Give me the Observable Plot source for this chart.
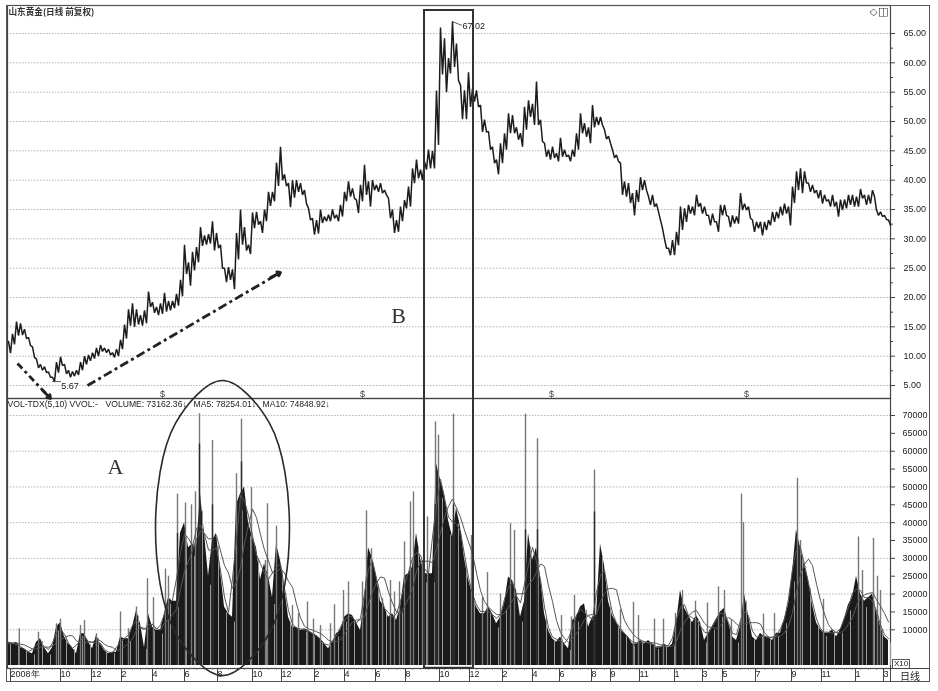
<!DOCTYPE html>
<html>
<head>
<meta charset="utf-8">
<script src="https://cdn.jsdelivr.net/npm/d3@7"></script>
<script src="https://cdn.jsdelivr.net/npm/@observablehq/plot@0.6"></script>
<style>
html,body{margin:0;padding:0;background:#fff;}
#page{position:relative;width:938px;height:691px;overflow:hidden;filter:blur(0.45px);font-family:"Liberation Sans",sans-serif;}
#page svg{position:absolute;left:0;top:0;background:transparent;}
#outer{position:absolute;left:6px;top:5px;width:922px;height:675px;border:1.5px solid #555;}
#cell{position:absolute;left:890px;top:668px;width:38px;height:13px;border-left:1.5px solid #444;border-top:1.5px solid #444;font:10px "Noto Sans CJK SC";text-align:center;line-height:13px;color:#222;}
#x10{position:absolute;left:892px;top:659px;width:16px;height:8px;border:1px solid #555;font:8px "Liberation Sans";line-height:8px;text-align:center;color:#222;}
</style>
</head>
<body>
<div id="page">
  <div id="outer"></div>
  <div id="x10">X10</div>
  <div id="cell">日线</div>
</div>
<script>
const priceHigh = [12.5,13.8,15.9,15.6,14.6,13.2,11.6,9.5,8.6,8.2,7.3,6.4,9,9.9,8.6,7.6,7.4,7.6,9,10,10.2,10.6,11.4,11.9,11.4,11.2,10.6,11.2,12.8,15.4,18,19,18,17,17.8,21,19.2,18.4,19,20.8,19.4,19.4,20.6,23,29,26,27.8,28.6,32,30.6,30.8,33,31,29,25,25.2,24.8,31,35,32,29,34.5,34.6,33,35,38,38,43,45.7,41,39.5,40,40,39.5,38.3,35.2,33.5,33.2,35,33.8,34.1,35,34.1,35.8,38,39.8,38.6,36.6,39.2,42.6,39.8,40,39.2,39.5,38.3,36.9,35,33.2,35.5,36.6,38.9,42,43.5,41.8,43.2,45.2,45,55.3,66,64.2,60.8,67.02,63.3,56.2,55.3,58.4,55.6,55.3,52.8,50.3,48.3,45.7,43.5,46.3,48,51.4,51.1,49,48,52.5,53.6,53,56.8,50.3,46.3,45.2,45.7,44.6,47.2,45.2,44.3,45.2,48,51.4,49.7,49,52.8,50.8,50.8,48.6,47.5,45.2,44.3,42.9,39.8,39.5,37.8,38.3,40.5,40,37.2,37.5,36,33.2,30,28.4,29.8,31.2,35.5,35.2,35.8,35.5,37.5,36.1,35.5,34,34.3,32.9,35.8,35.8,33.8,34,33.8,37.8,36,35.5,33.2,32.9,32.9,32.9,33.2,34.6,34.6,35.5,36,35.5,38.9,41.5,42,41.5,39.5,39.2,38.3,38.3,37.5,36.7,37.5,36.3,36.7,36.7,37.5,37.5,37.2,38.5,37.5,37.5,38.3,34.9,34.6,34,33.2];
const priceLow = [10.5,12,13.5,13.6,13,11.8,9.8,8,7.6,7.2,6.4,5.67,7.2,8.4,7,6.4,6.6,6.8,7.6,8.6,9.2,9.6,10,10.8,10.6,10.2,9.8,10,11.2,13,15.2,15,15.4,15.2,15.6,18.4,17.4,17,17.2,17.6,17.8,18.2,18.6,20.2,24,22,24.6,26,28.8,29,29.2,28,28.4,25,22.6,23,21.4,26.5,29,28,27.4,31.8,32.4,31,33,35.6,36.4,39,40,39,35.4,37,38,37.5,36,33.2,30.7,30.9,32.7,33,33,33.5,33,33.8,36.4,37.2,36.9,34.4,36.4,37.5,35.5,38.3,38,37.8,37.5,33.5,31,31.2,33,35.2,35.5,39.5,40.3,40,41.8,42,42,46,58,55,58.2,59.3,57,50.4,50.4,52.5,53.4,52.5,48.2,48.2,45.2,42.9,41,42.9,45.2,48,48,46.9,45.7,48.6,50.8,49.4,49.4,46.6,44,43.5,43.8,43.2,44,44,43.2,44,45.2,48,47.4,46.3,49,49.4,49.4,47,46.3,43.8,43.2,37.5,37.2,36.1,34,36.3,38.3,38.3,35.8,35.5,34.6,31.8,28.4,27.2,27.2,28.9,31.5,32.9,34.3,34,35.5,34.3,34,32.3,32.9,31.2,34,34,32,32.6,32.6,34.9,34.9,33.5,31.2,31.8,30.6,31.5,32.3,32.9,33.5,34,34.3,32.3,36.1,38.3,37.8,39.5,38,37.8,36.9,36,36.4,35.5,35.5,33.8,34.9,35.2,35.8,35.5,35.5,36.9,35.8,36,37.2,34,33.8,33.3,32.3];
const volumeBars = [6500,6000,6500,5000,4700,3700,3300,6500,7500,5000,3300,5000,10700,12000,8000,6000,5000,3300,8900,8900,6500,4700,8400,6000,4200,3300,3700,3700,8000,7500,7500,10700,15400,11700,5000,14500,10700,9800,9800,14500,19000,18000,18000,37000,40000,33000,34000,33000,48000,37000,25000,35000,37000,26600,16400,14500,13500,45000,48000,50000,40000,36000,33000,24000,28500,25000,19000,34000,29400,22000,13500,10700,10700,9800,
10300,9800,8900,8400,7500,6000,4700,6500,8900,9800,13500,14500,14000,12000,9800,18000,33000,30000,25000,18000,16400,13500,14500,12600,16400,25000,25700,27600,37000,30000,25700,25700,25700,56500,52000,48000,40600,36000,44000,38800,30000,24000,20000,16400,14500,14500,16400,14500,11700,13500,17300,24800,23800,21000,13500,18000,37000,29400,33000,24800,14500,9800,7500,6500,8000,6000,4700,12600,13500,16400,17300,10700,13500,14000,34000,
28000,18000,14000,12000,10000,9000,8000,6000,6000,7000,6000,7000,6000,5000,5000,6000,5000,6000,12000,21000,16000,14000,12000,14000,12000,7000,9000,11000,13000,15000,16000,12000,8000,7000,11000,20000,14000,8000,7000,9000,8000,8000,7000,9000,9000,13000,17000,26000,38000,33000,28000,24000,17000,12000,10000,9000,9000,10000,8000,10000,13000,17000,19000,25000,20000,18000,19000,20000,15000,11000,8000,7000];
const spikeCols = [2.7,7.5,12,13,18,19,22,28,30,32,34.75,36.25,39.25,40,42.25,44.25,45.75,46.75,47.75,51,57,58.25,60.75,64.25,64.75,67,71,72.5,74.75,76.25,78,80.5,81.5,83.75,85,88.5,89.5,90.75,93.5,95.5,96.5,97.75,99,100.5,101.25,103.5,104.75,106.75,107.5,111.25,115.75,118.5,119.75,123,125.5,126.5,129.25,132.25,138.25,140.75,141.5,146.5,153,156.25,157.5,161.5,163.75,166.75,168.5,171.75,174.75,177.5,179,180.75,183.25,183.75,188.75,191.5,197.25,198,203.75,212.5,213.5,216.25,217.25,218];
const spikeVols = [10300,9300,11700,13000,11200,12600,8900,15000,10300,16400,24300,19000,27000,25000,48000,45500,45000,48600,70500,63000,53700,69000,49800,29400,45300,39000,16800,14500,17800,13000,11200,11700,17000,21000,23400,23400,43300,32700,18700,23800,20600,23400,34600,45800,48600,29400,41600,68200,64500,70400,36400,19000,26000,20000,39700,37800,70400,63500,14000,13600,19600,54700,15600,17700,14000,13000,13000,14600,21000,18000,17500,22000,21000,12700,48000,40000,14400,14600,52400,35000,18500,36000,26600,35600,25000,21000];
const heavyCols = [47.75,51,42.25,58.25,106.75,111.25,129.25,132.25,146.5];
const heavyVols = [62000,45000,37000,57000,45000,45000,38000,38000,43000];
const priceTicks = [65,60,55,50,45,40,35,30,25,20,15,10,5];
const priceMinor = [62.5,57.5,52.5,47.5,42.5,37.5,32.5,27.5,22.5,17.5,12.5,7.5];
const volumeTicks = [70000,65000,60000,55000,50000,45000,40000,35000,30000,25000,20000,15000,10000];
const volumeGrid = [70000,60000,50000,40000,30000,20000,10000];
const xTickCols = [0,12.5,20.25,27.75,35.5,43.5,51.75,60.5,67.75,76,83.5,91.25,98.75,107.25,114.75,123,130.5,137.25,145.25,150,157.25,166,173,178,186.25,195.25,202.75,211.25,218.25];
const xTickLabels = ["2008年","10","12","2","4","6","8","10","12","2","4","6","8","10","12","2","4","6","8","9","11","1","3","5","7","9","11","1","3"];
const legendTexts = ["VOL-TDX(5,10) VVOL:-","VOLUME: 73162.36↓","MA5: 78254.01↓","MA10: 74848.92↓"];
const legendOffsets = [0,98,186,255];
const markerCols = [38.5,88.5,135.75,184.5];
const boxCols = [104,116.25];
const boxPrices = [68.92,-43.2];
const ellipseCols = [70.25,65.3,53.5,41.7,36.75,41.7,53.5,65.3];
const ellipsePrices = [-19.3,-1.5,5.85,-1.5,-19.3,-37.1,-44.45,-37.1];
const arrowOneCols = [2.25,10.5];
const arrowOnePrices = [8.75,2.8];
const arrowTwoCols = [19.75,68];
const arrowTwoPrices = [5,24.26];

const days = d3.range(priceHigh.length);
const zigzag = days.flatMap(d=>[{x:d,y:priceHigh[d]},{x:d+0.5,y:priceLow[d]}]);
const xScale = {type:"linear",domain:[0,220],range:[8,888],axis:null};
const priceScale = {type:"linear",domain:[65,5],range:[33,385]};
const volumeScale = {type:"linear",domain:[70000,0],range:[415,665]};
const base = {width:938,height:691,marginLeft:7,marginRight:48,x:xScale,style:{background:"transparent",fontFamily:"Liberation Sans"}};
const page = document.getElementById("page");
const ink = "#222";

const pricePlot = Plot.plot({...base,marginTop:5,marginBottom:293,y:priceScale,marks:[
  Plot.gridY(priceTicks,{stroke:"#777",strokeOpacity:0.55,strokeDasharray:"1.5,1.5"}),
  Plot.frame({stroke:"#444",strokeWidth:1.2}),
  Plot.axisY(priceMinor,{anchor:"right",tickSize:2,fill:"none",label:null,stroke:"#444"}),
  Plot.axisY(priceTicks,{anchor:"right",tickSize:4,tickPadding:9,fontSize:9,fill:ink,stroke:"#444",label:null,tickFormat:d=>d.toFixed(2),textAnchor:"start"}),
  Plot.line(zigzag,{x:"x",y:"y",stroke:"#1c1c1c",strokeWidth:1.5,strokeLinejoin:"bevel"}),
  Plot.text(["山东黄金(日线 前复权)"],{frameAnchor:"top-left",dx:1,dy:3,fontSize:8.6,fontWeight:"bold",textAnchor:"start",fill:"#333",fontFamily:"Noto Sans CJK SC"}),
  Plot.text(["◇"],{frameAnchor:"top-right",dx:-13,dy:2,fontSize:10,fill:"#444",fontFamily:"DejaVu Sans"}),
  Plot.text(["◫"],{frameAnchor:"top-right",dx:-2,dy:2,fontSize:11,fill:"#333",fontFamily:"DejaVu Sans"}),
  Plot.line([[11,5.67],[13,5.67]],{x:"0",y:"1",stroke:"#333",strokeWidth:0.8}),
  Plot.text(["5.67"],{x:13.2,y:4.9,fontSize:9,textAnchor:"start",fill:ink}),
  Plot.line([[111,67.02],[113.3,66.4]],{x:"0",y:"1",stroke:"#333",strokeWidth:0.8}),
  Plot.text(["67.02"],{x:113.5,y:66.3,fontSize:9,textAnchor:"start",fill:ink}),
  Plot.text(markerCols,{x:d=>d,y:3.5,text:()=>"$",fontSize:9,fill:"#444"}),
  Plot.text(["B"],{x:97.5,y:16.8,fontSize:22,fontFamily:"Liberation Serif",fill:"#333"})
]});

const volumePlot = Plot.plot({...base,marginTop:398,marginBottom:23,y:volumeScale,marks:[
  Plot.gridY(volumeGrid,{stroke:"#777",strokeOpacity:0.55,strokeDasharray:"1.5,1.5"}),
  Plot.frame({stroke:"#444",strokeWidth:1.2}),
  Plot.areaY(days,{x:d=>d,y1:0,y2:d=>volumeBars[d],fill:"#1a1a1a"}),
  Plot.ruleX(days.filter(d=>d%2===0),{x:d=>d+0.5,y1:0,y2:d=>volumeBars[d]*0.9,stroke:"#999",strokeWidth:1}),
  Plot.ruleX(spikeCols,{x:d=>d,y1:0,y2:(d,i)=>spikeVols[i],stroke:"#777",strokeWidth:1.4}),
  Plot.ruleX(heavyCols,{x:d=>d,y1:0,y2:(d,i)=>heavyVols[i],stroke:"#2a2a2a",strokeWidth:1.4}),
  Plot.lineY(volumeBars,Plot.windowY({k:3,anchor:"middle",x:(d,i)=>i,y:d=>d,stroke:"#555",strokeWidth:1})),
  Plot.lineY(volumeBars,Plot.windowY({k:5,anchor:"end",x:(d,i)=>i,y:d=>d,stroke:"#555",strokeWidth:1})),
  Plot.axisY(volumeTicks,{anchor:"right",tickSize:4,tickPadding:8,fontSize:9,fill:ink,stroke:"#444",label:null,textAnchor:"start",tickFormat:d=>String(d)}),
  Plot.axisX(d3.range(1,220,2),{anchor:"bottom",tickSize:1.5,fill:"none",label:null,stroke:"#555"}),
  Plot.axisX(xTickCols,{anchor:"bottom",tickSize:13,tickPadding:-11,fontSize:9,fill:ink,stroke:"#444",label:null,textAnchor:"start",dx:2,tickFormat:(d,i)=>xTickLabels[i]}),
  ...legendTexts.map((t,i)=>Plot.text([t],{frameAnchor:"top-left",dx:legendOffsets[i],dy:2,fontSize:8.6,fill:ink,textAnchor:"start"})),
  Plot.text(["A"],{x:26.75,y:55500,fontSize:22,fontFamily:"Liberation Serif",fill:"#333"})
]});

const overlayPlot = Plot.plot({...base,marginTop:5,marginBottom:293,y:{...priceScale,axis:null},marks:[
  Plot.rect([0],{x1:boxCols[0],x2:boxCols[1],y1:boxPrices[0],y2:boxPrices[1],fill:"none",stroke:"#333",strokeWidth:2}),
  Plot.line(ellipseCols,{x:d=>d,y:(d,i)=>ellipsePrices[i],curve:"catmull-rom-closed",stroke:"#2a2a2a",strokeWidth:1.6,fill:"none"}),
  Plot.line(arrowOneCols,{x:d=>d,y:(d,i)=>arrowOnePrices[i],stroke:"#222",strokeWidth:2.8,strokeLinecap:"butt",strokeDasharray:"7,3.5,3,3.5"}),
  Plot.arrow([0],{x1:8.5,y1:4.2,x2:arrowOneCols[1],y2:arrowOnePrices[1],stroke:"#222",strokeWidth:2.8,headLength:6,headAngle:70}),
  Plot.line(arrowTwoCols,{x:d=>d,y:(d,i)=>arrowTwoPrices[i],stroke:"#222",strokeWidth:2.8,strokeLinecap:"butt",strokeDasharray:"9,3.5,3,3.5"}),
  Plot.arrow([0],{x1:65.5,y1:23.4,x2:arrowTwoCols[1],y2:arrowTwoPrices[1],stroke:"#222",strokeWidth:2.8,headLength:6,headAngle:70})
]});

page.insertBefore(pricePlot,page.firstChild);
page.insertBefore(volumePlot,document.getElementById("outer"));
page.insertBefore(overlayPlot,document.getElementById("outer"));
</script>
</body>
</html>
